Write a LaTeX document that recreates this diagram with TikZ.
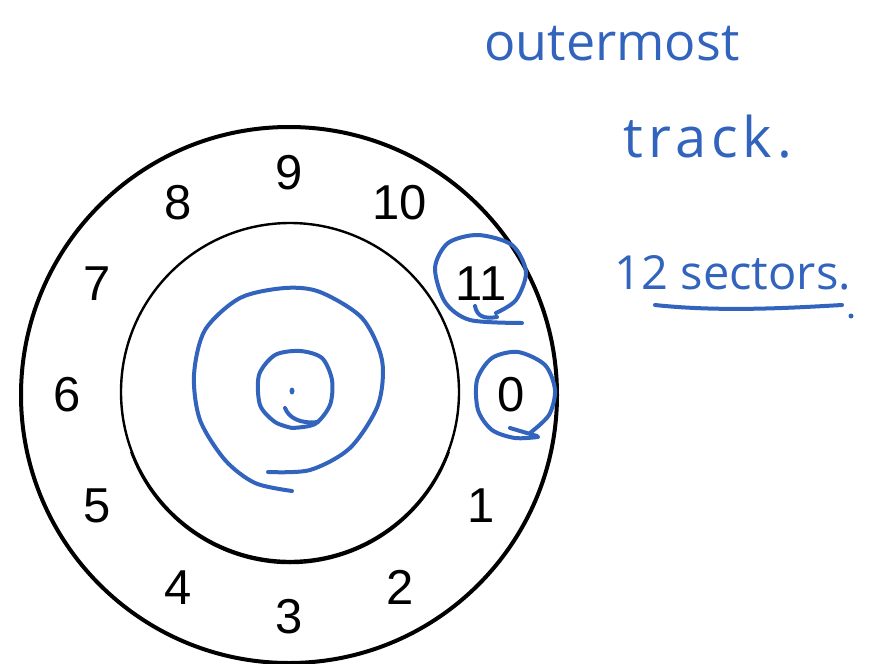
\documentclass[tikz,border=0pt]{standalone}
\usepackage{fontspec}
\usetikzlibrary{calc}
\setmainfont{Liberation Sans}
\newfontfamily\handfont{Open Sans}
\newfontfamily\handwide[LetterSpace=9]{Open Sans}
\definecolor{ink}{RGB}{50,100,190}
\tikzset{
  disk/.style={draw=black, line width=4pt},
  hub/.style={draw=black, line width=2.4pt},
  secnum/.style={font=\fontsize{49}{49}\selectfont, inner sep=0pt, text=black},
  pen/.style={draw=ink, line width=4pt, line cap=round, line join=round},
  note/.style={font=\handfont\fontsize{52}{52}\selectfont, text=ink, inner sep=0pt, anchor=base}
}
\begin{document}
\begin{tikzpicture}[x=1pt,y=-1pt]
\useasboundingbox (0,0) rectangle (873,664);
% disk
\coordinate (c) at (289,395);
\draw[disk] (c) circle (268);
\draw[hub] (290,392) circle (169);
\draw[hub] (290,394) ++(200:169pt) arc (200:340:169pt);
% sector numbers
\foreach \n in {0,...,11}{
  \node[secnum] (s\n) at ($(c)+(-\n*30:222pt)$) {\n};
}
% annotations
\node[note] (t1) at (612,60) {outermost};
\node[note, font=\handwide\fontsize{56}{56}\selectfont] (t2) at (708,157) {track.};
\node[note, font=\handfont\fontsize{47}{47}\selectfont] (t3) at (733,289) {12 sectors.};
\draw[pen] (655,305) .. controls (720,312) and (790,308) .. (842,305);
\fill[ink] (851,316) circle (2.5);
% circle around 11
\draw[pen] plot[smooth] coordinates {(522,323) (470,320) (445,302) (435,268) (448,243) (478,235) (512,245) (526,272) (516,300) (496,313)};
\draw[pen] (475,306) .. controls (477,317) and (485,319) .. (497,317);
% circle around 0
\draw[pen] plot[smooth] coordinates {(530,433) (549,415) (555,390) (545,365) (518,352) (492,358) (477,380) (478,410) (492,430) (515,438) (538,437)};
\draw[pen] (510,428) -- (537,436);
% center scribbles
\draw[pen] plot[smooth] coordinates {(268,472) (310,470) (350,448) (378,405) (382,360) (362,318) (320,292) (285,288) (240,298) (205,330) (194,375) (200,420) (225,460) (255,483) (292,491)};
\draw[pen] plot[smooth] coordinates {(292,428) (315,424) (330,405) (332,380) (322,358) (300,351) (275,355) (259,375) (260,405) (275,422) (292,428)};
\draw[pen] (285,408) .. controls (289,418) and (300,424) .. (318,422);
\fill[ink] (292,391) ellipse (2.5 and 3.5);
\end{tikzpicture}
\end{document}
